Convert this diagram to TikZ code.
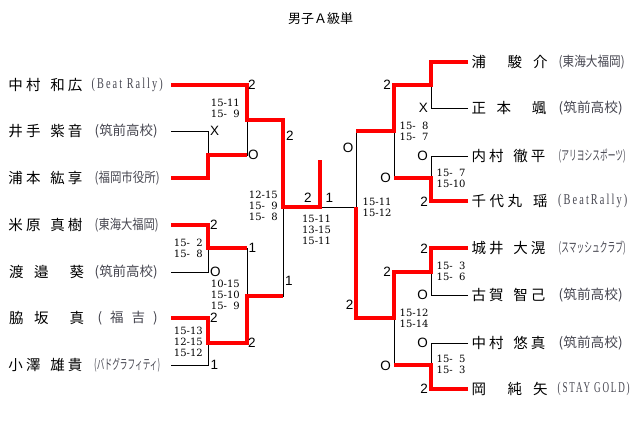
\documentclass[tikz,border=0pt]{standalone}
\usepackage{fontspec}
\usepackage{graphicx}
\newfontfamily\jp{Noto Sans CJK JP}
\newfontfamily\scorefont{DejaVu Serif}
\newfontfamily\resfont{Liberation Sans}
\newfontfamily\latsp[LetterSpace=20]{Liberation Serif}
\definecolor{affgray}{RGB}{70,70,80}
\newcommand\nmA[4]{\makebox[74pt][s]{#1\hfill#2\hfill\hfill\hfill#3\hfill#4}}
\newcommand\nmC[4]{\makebox[76pt][s]{#1\hfill#2\hfill#3\hfill\hfill\hfill#4}}
\newcommand\nmP[3]{\makebox[75pt][s]{#1\hfill#2\hfill\hfill#3}}
\newcommand\nmQ[3]{\makebox[76pt][s]{#1\hfill\hfill#2\hfill#3}}
\newcommand\af[2]{\resizebox{#1}{\height}{#2}}
\newcommand\ph{\phantom{1}}
\tikzset{
  pname/.style={inner sep=0pt, font=\jp\fontsize{14.5}{15}\selectfont},
  affj/.style={anchor=west, inner sep=0pt, text=affgray, font=\jp\fontsize{13.5}{14}\selectfont},
  affl/.style={anchor=west, inner sep=0pt, text=affgray, font=\latsp\fontsize{15}{15}\selectfont},
  res/.style={inner sep=0pt, font=\resfont\fontsize{13.5}{14}\selectfont},
  score/.style={inner sep=0pt, font=\scorefont\fontsize{10}{11}\selectfont},
  win/.style={red, line width=3.2pt},
  lose/.style={black, line width=0.8pt},
}
\begin{document}
\begin{tikzpicture}[x=1pt,y=-1pt]
\useasboundingbox (0,0) rectangle (640,429);
\node[inner sep=0pt, font=\jp\fontsize{13}{13}\selectfont] (title) at (320.5,19) {男子Ａ級単};

% left players
\node[pname, anchor=west] (p1) at (8.3,85) {\nmA{中}{村}{和}{広}};
\node[pname, anchor=west] (p2) at (8.3,131) {\nmA{井}{手}{紫}{音}};
\node[pname, anchor=west] (p3) at (8.3,178) {\nmA{浦}{本}{紘}{享}};
\node[pname, anchor=west] (p4) at (8.3,225) {\nmA{米}{原}{真}{樹}};
\node[pname, anchor=west] (p5) at (9,272) {\nmP{渡}{邉}{葵}};
\node[pname, anchor=west] (p6) at (9,318) {\nmP{脇}{坂}{真}};
\node[pname, anchor=west] (p7) at (8.3,365) {\nmA{小}{澤}{雄}{貴}};
\node[affl] (p1a) at (91.5,85) {\af{71pt}{(Beat Rally)}};
\node[affj] (p2a) at (94.5,131) {\af{63pt}{(筑前高校)}};
\node[affj] (p3a) at (94.5,178) {\af{65pt}{(福岡市役所)}};
\node[affj] (p4a) at (94.5,225) {\af{64pt}{(東海大福岡)}};
\node[affj] (p5a) at (94.5,272) {\af{63pt}{(筑前高校)}};
\node[affj] (p6a) at (97.5,318) {\makebox[60pt][s]{(\hfill 福\hfill 吉\hfill)}};
\node[affj] (p7a) at (94,365) {\af{66pt}{(バドグラフィティ)}};

% right players
\node[pname, anchor=west] (q1n) at (471.3,62) {\nmQ{浦}{駿}{介}};
\node[pname, anchor=west] (q2n) at (471.3,108) {\nmP{正}{本}{颯}};
\node[pname, anchor=west] (q3n) at (471.3,156) {\nmA{内}{村}{徹}{平}};
\node[pname, anchor=west] (q4n) at (471.3,201) {\nmC{千}{代}{丸}{瑶}};
\node[pname, anchor=west] (q5n) at (471.3,248) {\nmA{城}{井}{大}{滉}};
\node[pname, anchor=west] (q6n) at (471.3,295) {\nmA{古}{賀}{智}{己}};
\node[pname, anchor=west] (q7n) at (471.3,343) {\nmA{中}{村}{悠}{真}};
\node[pname, anchor=west] (q8n) at (471.3,389) {\nmQ{岡}{純}{矢}};
\node[affj] (q1a) at (558.5,62) {\af{66pt}{(東海大福岡)}};
\node[affj] (q2a) at (558.5,108) {\af{64pt}{(筑前高校)}};
\node[affj] (q3a) at (558.5,156) {\af{67pt}{(アリヨシスポーツ)}};
\node[affl] (q4a) at (558,201) {\af{69pt}{(BeatRally)}};
\node[affj] (q5a) at (558.5,248) {\af{67pt}{(スマッシュクラブ)}};
\node[affj] (q6a) at (558.5,295) {\af{64pt}{(筑前高校)}};
\node[affj] (q7a) at (558.5,343) {\af{64pt}{(筑前高校)}};
\node[affl] (q8a) at (557.5,389) {\af{72pt}{(STAY GOLD)}};

% coordinates
\coordinate (a1) at (171,85);  \coordinate (a2) at (171,131);
\coordinate (a3) at (171,178); \coordinate (a4) at (171,225);
\coordinate (a5) at (171,272); \coordinate (a6) at (171,318);
\coordinate (a7) at (171,365);
\coordinate (j1) at (208,155); \coordinate (j2) at (208,248); \coordinate (j3) at (208,343);
\coordinate (k1) at (247,120); \coordinate (k2) at (247,296);
\coordinate (s1) at (283,207);
\coordinate (fc) at (320,207); \coordinate (ftop) at (320,160);
\coordinate (fr) at (356,207);
\coordinate (b1) at (468,62);  \coordinate (b2) at (468,108);
\coordinate (b3) at (468,156); \coordinate (b4) at (468,201);
\coordinate (b5) at (468,248); \coordinate (b6) at (468,295);
\coordinate (b7) at (468,343); \coordinate (b8) at (468,389);
\coordinate (c1) at (431,85);  \coordinate (c2) at (431,178);
\coordinate (c3) at (431,272); \coordinate (c4) at (431,365);
\coordinate (r1) at (394,131); \coordinate (r2) at (394,318);

% thin lines
\draw[lose] (a2) -| (j1);
\draw[lose] (a5) -| (j2);
\draw[lose] (a7) -| (j3);
\draw[lose] (j1) -| (k1);
\draw[lose] (j2) -| (k2);
\draw[lose] (k2) -| (s1);
\draw[lose] (fc) -- (fr);
\draw[lose] (b2) -| (c1);
\draw[lose] (b3) -| (c2);
\draw[lose] (b6) -| (c3);
\draw[lose] (b7) -| (c4);
\draw[lose] (c2) -| (r1);
\draw[lose] (c4) -| (r2);
\draw[lose] (r1) -| (fr);

% winner lines
\draw[win] (a1) -| (k1) -| (s1) -| (ftop);
\draw[win] (a3) -| (j1) -- (j1 -| k1);
\draw[win] (a4) -| (j2) -- (j2 -| k2);
\draw[win] (a6) -| (j3) -| (k2) -- (k2 -| s1);
\draw[win] (b1) -| (c1) -| (r1) -- (r1 -| fr);
\draw[win] (b4) -| (c2) -- (c2 -| r1);
\draw[win] (b5) -| (c3) -| (r2) -| (fr);
\draw[win] (b8) -| (c4) -- (c4 -| r2);

% results left
\node[res, anchor=west] (x1) at (210,131) {X};
\node[res, anchor=west] (x2) at (210,225) {2};
\node[res, anchor=west] (x3) at (210,272) {O};
\node[res, anchor=west] (x4) at (210,318) {2};
\node[res, anchor=west] (x5) at (210.5,365) {1};
\node[res, anchor=west] (y1) at (248,85) {2};
\node[res, anchor=west] (y2) at (248,155) {O};
\node[res, anchor=west] (y3) at (248.5,248) {1};
\node[res, anchor=west] (y4) at (248,342.5) {2};
\node[res, anchor=west] (z1) at (286,136) {2};
\node[res, anchor=west] (z2) at (285,280.5) {1};
\node[res, anchor=west] (f1) at (304,197.5) {2};
\node[res, anchor=west] (f2) at (325.5,197.5) {1};
% results right
\node[res, anchor=east] (u1) at (428,108) {X};
\node[res, anchor=east] (u2) at (428,156) {O};
\node[res, anchor=east] (u3) at (428,202) {2};
\node[res, anchor=east] (u4) at (428,249) {2};
\node[res, anchor=east] (u5) at (428,295) {O};
\node[res, anchor=east] (u6) at (428,343) {O};
\node[res, anchor=east] (u7) at (428,389) {2};
\node[res, anchor=east] (v1) at (391,85) {2};
\node[res, anchor=east] (v2) at (391,178) {O};
\node[res, anchor=east] (v3) at (391,272) {2};
\node[res, anchor=east] (v4) at (391,366) {O};
\node[res, anchor=east] (w1) at (353.5,147.5) {O};
\node[res, anchor=east] (w2) at (353.5,305) {2};

% scores
\node[score, anchor=east, align=right] (sl1a) at (203,248) {15-\ph2\\15-\ph8};
\node[score, anchor=east, align=right] (sl1b) at (203,341.5) {15-13\\12-15\\15-12};
\node[score, anchor=east, align=right] (sl2a) at (240,108) {15-11\\15-\ph9};
\node[score, anchor=east, align=right] (sl2b) at (240,295) {10-15\\15-10\\15-\ph9};
\node[score, anchor=east, align=right] (sl3) at (278,206) {12-15\\15-\ph9\\15-\ph8};
\node[score, align=center] (sf) at (316.5,229.5) {15-11\\13-15\\15-11};
\node[score, anchor=west, align=left] (sr3) at (362.5,207.5) {15-11\\15-12};
\node[score, anchor=west, align=left] (sr2a) at (399.5,131.5) {15-\ph8\\15-\ph7};
\node[score, anchor=west, align=left] (sr2b) at (399.5,318.5) {15-12\\15-14};
\node[score, anchor=west, align=left] (sr1a) at (436.5,178.5) {15-\ph7\\15-10};
\node[score, anchor=west, align=left] (sr1b) at (436.5,271.5) {15-\ph3\\15-\ph6};
\node[score, anchor=west, align=left] (sr1c) at (436.5,364) {15-\ph5\\15-\ph3};
\end{tikzpicture}
\end{document}
